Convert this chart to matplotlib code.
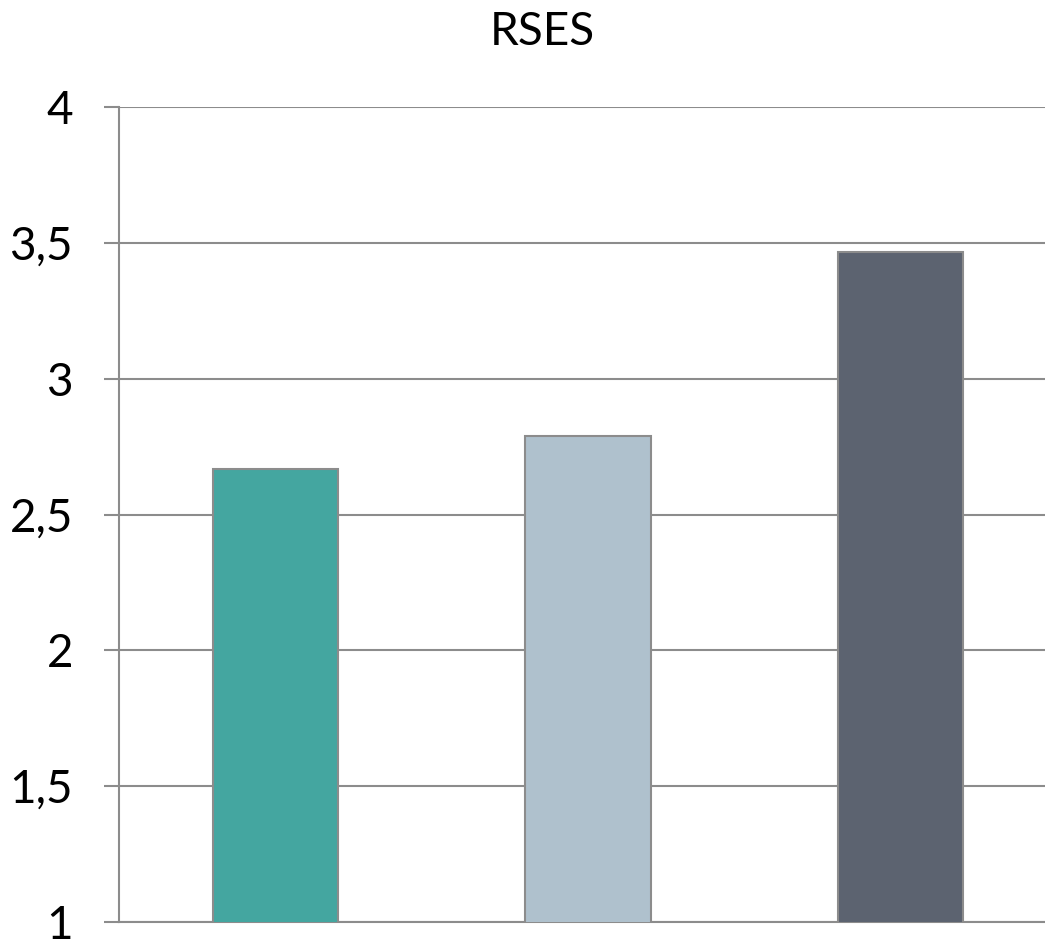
import matplotlib.pyplot as plt
from matplotlib.ticker import FuncFormatter

# datos
categorias = ["A", "B", "C"]
valores = [2.667, 2.79, 3.466]
colores = ["#44A6A0", "#AFC1CD", "#5C6370"]
ticks_y = [1, 1.5, 2, 2.5, 3, 3.5, 4]

plt.rcParams['font.family'] = ['Lato', 'DejaVu Sans']

fig = plt.figure(figsize=(10.45, 9.41), dpi=100)
# el eje derecho se sale un poco de la imagen como en el original
ax = fig.add_axes([119 / 1045, (941 - 922) / 941, 938 / 1045, 815 / 941])

x = range(len(categorias))
ax.bar(x, valores, width=0.4, color=colores, edgecolor="#8C8C8C", linewidth=1.5, bottom=0, zorder=3)

ax.set_xlim(-0.5, 2.5)
ax.set_ylim(1, 4)
ax.set_yticks(ticks_y)
ax.yaxis.set_major_formatter(FuncFormatter(lambda v, p: ("%g" % v).replace(".", ",")))
ax.set_xticks([])

ax.grid(axis="y", color="#8C8C8C", linewidth=1.5, zorder=0)
ax.tick_params(axis="y", length=11, width=1.5, color="#8C8C8C", pad=22, labelsize=33)
for lbl in ax.get_yticklabels():
    lbl.set_verticalalignment("center_baseline")

for s in ["top", "right"]:
    ax.spines[s].set_visible(False)
ax.spines["left"].set_color("#8C8C8C")
ax.spines["left"].set_linewidth(1.5)
ax.spines["bottom"].set_color("#8C8C8C")
ax.spines["bottom"].set_linewidth(1.5)

fig.text(542 / 1045, 1 - 28 / 941, "RSES", fontsize=33, ha="center", va="center_baseline")

fig.savefig("out.png", dpi=100)
